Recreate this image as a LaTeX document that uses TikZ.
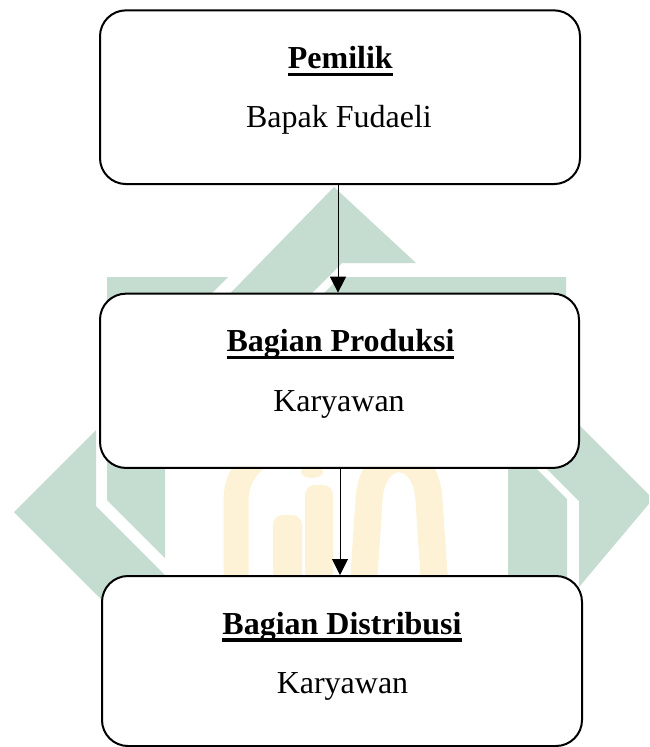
\documentclass[tikz,border=0pt]{standalone}
\usepackage{fontspec}
\setmainfont{Liberation Serif}
\usetikzlibrary{arrows.meta}
\definecolor{wmgreen}{RGB}{197,220,208}
\definecolor{wmyellow}{RGB}{253,242,214}
\newcommand\wul[1]{\setbox0=\hbox{#1}\rlap{\rule[-7.6pt]{\wd0}{3.2pt}}\box0}
\tikzset{
  boxst/.style={draw, line width=2pt, rounded corners=26pt, fill=white, inner sep=0pt},
  txt/.style={anchor=base, inner sep=0pt, font=\fontsize{32}{38}\selectfont},
  arr/.style={line width=1pt, -{Triangle[length=16pt,width=16pt]}},
  wm/.style={fill=wmgreen},
  wmy/.style={fill=wmyellow}
}
\begin{document}
\begin{tikzpicture}[x=1pt,y=-1pt]
\useasboundingbox (0,0) rectangle (649,747);
\clip (0,0) rectangle (649,747);
\fill[white] (0,0) rectangle (649,747);
% watermark (green)
\fill[wm] (334,187) -- (416,263) -- (342,263) -- (292,313) -- (211,313) -- cycle;
\fill[wm] (107,277) -- (228,277) -- (165,340) -- (165,558) -- (107,500) -- cycle;
\fill[wm] (340,277) -- (566,277) -- (566,310) -- (520,452) -- (567,499) -- (567,590) -- (508,590) -- (508,320) -- (297,320) -- cycle;
\fill[wm] (96,430) -- (14,512) -- (110,608) -- (198,608) -- (96,506) -- cycle;
\fill[wm] (500,346) -- (653,499) -- (579,587) -- (579,501) -- (500,422) -- cycle;
% watermark (yellow)
\draw[wmyellow, line width=25pt] (236,590) -- (236,500) .. controls (236,470) and (260,450) .. (290,440);
\fill[wmy, rounded corners=10pt] (273,590) rectangle (302,515);
\fill[wmy, rounded corners=10pt] (305,590) rectangle (333,485);
\fill[wmy] (312,472) ellipse [x radius=11pt, y radius=6pt];
\draw[wmyellow, line width=27pt] (363,590) -- (369,500) .. controls (372,445) and (426,445) .. (429,500) -- (435,590);
% boxes
\node[boxst, minimum width=480pt, minimum height=173.7pt] (box1) at (340,97.2) {};
\node[boxst, minimum width=479pt, minimum height=174.3pt] (box2) at (339.5,380.8) {};
\node[boxst, minimum width=480pt, minimum height=170pt] (box3) at (342,661) {};
% texts
\node[txt] (t1) at (340.3,68.3) {\textbf{\wul{Pemilik}}};
\node[txt] (t2) at (339,127) {Bapak Fudaeli};
\node[txt] (t3) at (340.5,351.7) {\textbf{\wul{Bagian Produksi}}};
\node[txt] (t4) at (339,411.7) {Karyawan};
\node[txt] (t5) at (342,634) {\textbf{\wul{Bagian Distribusi}}};
\node[txt] (t6) at (342.5,693) {Karyawan};
% arrows
\draw[arr] ([xshift=-2pt]box1.south) -- ([xshift=-1.5pt]box2.north);
\draw[arr] ([xshift=0.5pt]box2.south) -- ([xshift=-2pt]box3.north);
\end{tikzpicture}
\end{document}
